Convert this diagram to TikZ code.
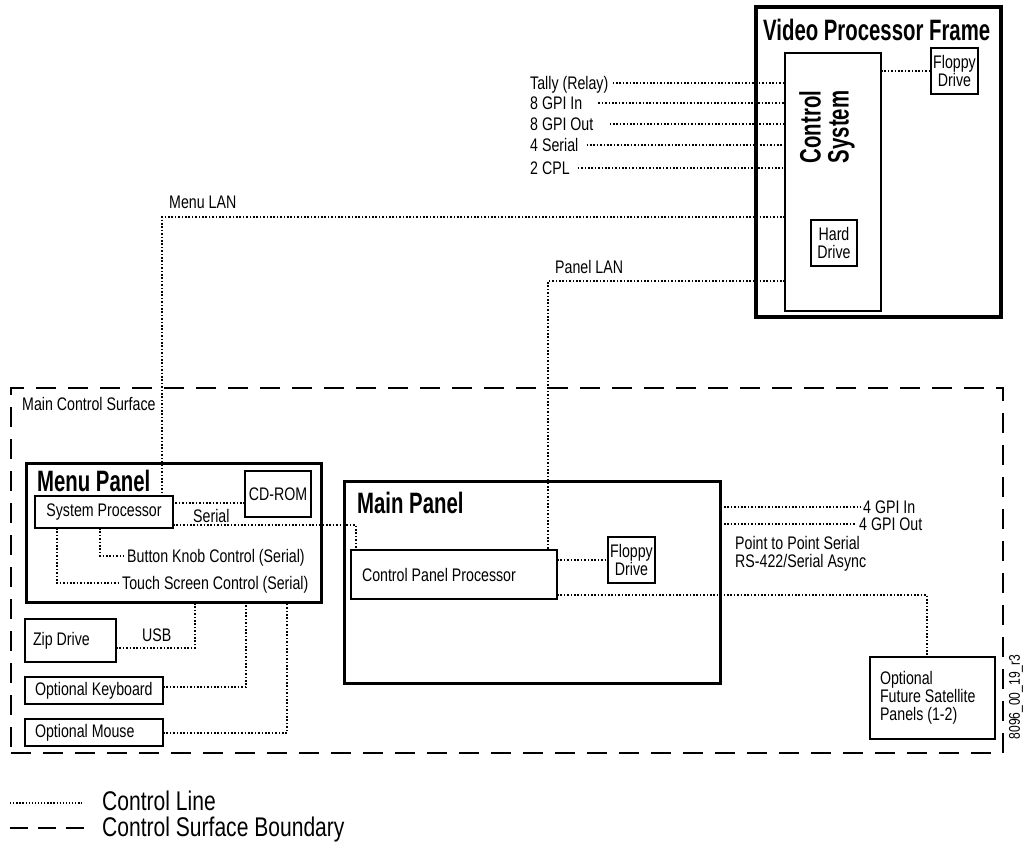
\documentclass[tikz,border=0pt]{standalone}
\usepackage{fontspec}
\setmainfont{Liberation Sans}[FakeStretch=0.78]
\newfontfamily\titlefont{Liberation Sans}[FakeStretch=0.69]
\usetikzlibrary{calc}
\begin{document}
\begin{tikzpicture}[x=1pt,y=-1pt,
  every node/.style={font=\fontsize{18.2}{18}\selectfont},
  box/.style={draw, line width=1.3pt, inner sep=1pt, outer sep=0pt, align=center},
  lbox/.style={draw, line width=1.3pt, inner ysep=0pt, outer sep=0pt, align=flush left},
  frame/.style={draw, line width=3.5pt, inner sep=0pt, outer sep=0pt},
  ctl/.style={line width=1.6pt, dash pattern=on 1.6pt off 1.8pt},
  bnd/.style={line width=1.6pt, dash pattern=on 20pt off 12pt},
  lbl/.style={inner sep=3pt, text height=12.8pt, text depth=0pt},
  txt/.style={inner sep=0pt, anchor=base west, align=flush left},
  legtxt/.style={txt, font=\fontsize{27}{28}\selectfont},
  title/.style={font=\titlefont\bfseries\fontsize{29.5}{29}\selectfont, inner sep=0pt, anchor=base west},
]
\useasboundingbox (0,0) rectangle (1035,846);

% ---------------- Video Processor Frame ----------------
\node[frame, minimum width=245pt, minimum height=310pt] (vpf) at (878.5,162) {};
\node[title] (vpft) at (763,40) {Video Processor Frame};
\node[box, minimum width=96pt, minimum height=258pt] (cs) at (833,182) {};
\node[font=\titlefont\bfseries\fontsize{29.5}{28}\selectfont, rotate=90, align=center, inner sep=0pt] (cst) at (827,127) {Control\\System};
\node[box, minimum width=47pt, minimum height=46pt, inner sep=0pt] (vfl) at (954.5,71) {Floppy\\Drive};
\node[box, minimum width=46pt, minimum height=46pt, inner sep=0pt] (hd) at (834,243) {Hard\\Drive};
\draw[ctl] (vfl.west -| cs.east) -- (vfl.west);

% inputs
\node[lbl, anchor=west] (tally) at (527,83) {Tally (Relay)};
\node[lbl, anchor=west] (gin) at (527,103) {8 GPI In};
\node[lbl, anchor=west] (gout) at (527,124) {8 GPI Out};
\node[lbl, anchor=west] (ser4) at (527,145) {4 Serial};
\node[lbl, anchor=west] (cpl) at (527,168) {2 CPL};
\draw[ctl] ([xshift=1pt]tally.east) -- (tally.east -| cs.west);
\draw[ctl] ([xshift=13pt]gin.east) -- (gin.east -| cs.west);
\draw[ctl] ([xshift=13pt]gout.east) -- (gout.east -| cs.west);
\draw[ctl] ([xshift=5pt]ser4.east) -- (ser4.east -| cs.west);
\draw[ctl] ([xshift=5pt]cpl.east) -- (cpl.east -| cs.west);

% ---------------- Main Control Surface ----------------
\node[draw, bnd, minimum width=992pt, minimum height=365pt, inner sep=0pt, outer sep=0pt] (mcs) at (507,570.5) {};
\node[txt] (mcst) at (22,410) {Main Control Surface};

% Menu panel
\node[frame, line width=3pt, minimum width=295pt, minimum height=139pt] (mp) at (173.5,532.5) {};
\node[title] (mpt) at (37,491) {Menu Panel};
\node[box, minimum width=138pt, minimum height=32pt] (sp) at (104,512) {System Processor};
\node[box, minimum width=66pt, minimum height=46pt] (cd) at (278,494) {CD-ROM};
\node[lbl, anchor=west] (bk) at (124,556) {Button Knob Control (Serial)};
\node[lbl, anchor=west] (ts) at (119,583) {Touch Screen Control (Serial)};
\draw[ctl] (cd.west |- 0,503) -- (sp.east |- 0,503);
\coordinate (bkc) at (100,556);
\coordinate (tsc) at (57,583);
\draw[ctl] (bkc |- sp.south) -- (bkc) -- (bk.west);
\draw[ctl] (tsc |- sp.south) -- (tsc) -- (ts.west);

% peripherals
\node[lbox, minimum height=43pt, text width=75pt, inner xsep=8pt] (zip) at (70.5,640.5) {Zip Drive};
\node[lbox, minimum height=27pt, text width=118pt, inner xsep=10pt] (kb) at (94,690.5) {Optional Keyboard};
\node[lbox, minimum height=27pt, text width=118pt, inner xsep=10pt] (ms) at (94,732.5) {Optional Mouse};
\coordinate (zipc) at (195,648);
\coordinate (kbc) at (246,687);
\coordinate (msc) at (287,733);
\draw[ctl] (zip.east |- zipc) -- (zipc) -- (zipc |- mp.south);
\draw[ctl] (kb.east |- kbc) -- (kbc) -- (kbc |- mp.south);
\draw[ctl] (ms.east |- msc) -- (msc) -- (msc |- mp.south);
\node[txt] (usb) at (142,641) {USB};

% Main panel
\node[frame, minimum width=376pt, minimum height=202pt] (mnp) at (532.5,582.5) {};
\node[title] (mnpt) at (357,513) {Main Panel};
\node[lbox, minimum height=49pt, text width=184pt, inner xsep=11pt] (cpp) at (454,574.5) {Control Panel Processor};
\node[box, minimum width=47pt, minimum height=46pt, inner sep=0pt] (mfl) at (631.5,560) {Floppy\\Drive};
\draw[ctl] (mfl.west -| cpp.east) -- (mfl.west);

% Serial from system processor
\coordinate (serc) at (356,525);
\node[txt] (sert) at (193,522) {Serial};
\draw[ctl] (sp.east |- serc) -- (serc) -- (serc |- cpp.north);

% LANs
\coordinate (mlan) at (162,217);
\node[txt] (mlant) at (169,208) {Menu LAN};
\draw[ctl] (cs.west |- mlan) -- (mlan) -- (mlan |- sp.north);
\coordinate (plan) at (548,281);
\node[txt] (plant) at (555,273) {Panel LAN};
\draw[ctl] (cs.west |- plan) -- (plan) -- (plan |- cpp.north);

% GPI
\node[lbl, anchor=west] (g4in) at (860,507) {4 GPI In};
\node[lbl, anchor=west] (g4out) at (856,524) {4 GPI Out};
\draw[ctl] (mnp.east |- g4in.west) -- (g4in.west);
\draw[ctl] (mnp.east |- g4out.west) -- (g4out.west);

% satellite
\node[txt] (ppt) at (735,567) {Point to Point Serial\\RS-422/Serial Async};
\node[lbox, minimum height=82pt, text width=105pt, inner xsep=10pt] (sat) at (932.5,698) {Optional\\Future Satellite\\Panels (1-2)};
\coordinate (ppc) at (927,595);
\draw[ctl] (cpp.east |- ppc) -- (ppc) -- (ppc |- sat.north);

\node[rotate=90, inner sep=0pt, font=\fontsize{15.5}{16}\selectfont] (fig) at (1016,697) {8096\_00\_19\_r3};

% legend
\coordinate (l1a) at (10,803);
\coordinate (l1b) at (82,803);
\coordinate (l2a) at (10,828);
\coordinate (l2b) at (90,828);
\draw[line width=1.3pt, dash pattern=on 1.3pt off 1.8pt] (l1a) -- (l1b);
\draw[line width=1.4pt, dash pattern=on 18pt off 10pt] (l2a) -- (l2b);
\node[legtxt] (leg1) at (102,810) {Control Line};
\node[legtxt] (leg2) at (102,836) {Control Surface Boundary};
\end{tikzpicture}
\end{document}
